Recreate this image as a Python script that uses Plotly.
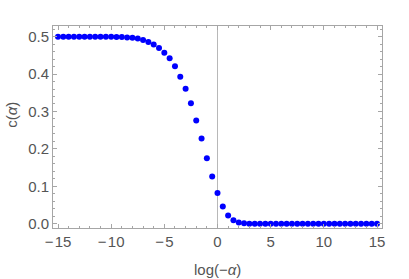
import plotly.graph_objects as go

x_vals = [-15, -14.5, -14, -13.5, -13, -12.5, -12, -11.5, -11, -10.5, -10,
          -9.5, -9, -8.5, -8, -7.5, -7, -6.5, -6, -5.5, -5, -4.5, -4, -3.5, -3,
          -2.5, -2, -1.5, -1, -0.5, 0, 0.5, 1, 1.5, 2, 2.5,
          3, 3.5, 4, 4.5, 5, 5.5, 6, 6.5, 7, 7.5, 8, 8.5, 9, 9.5, 10,
          10.5, 11, 11.5, 12, 12.5, 13, 13.5, 14, 14.5, 15]
c_vals = [0.5, 0.5, 0.5, 0.5, 0.5, 0.5, 0.5, 0.5, 0.5, 0.5, 0.5,
          0.499, 0.499, 0.498, 0.497, 0.495, 0.491, 0.486, 0.479, 0.470, 0.457,
          0.442, 0.421, 0.393, 0.361, 0.322, 0.276, 0.228, 0.175, 0.126, 0.082,
          0.046, 0.022, 0.009, 0.003, 0.001,
          0.0, 0.0, 0.0, 0.0, 0.0, 0.0, 0.0, 0.0, 0.0, 0.0, 0.0, 0.0, 0.0, 0.0, 0.0,
          0.0, 0.0, 0.0, 0.0, 0.0, 0.0, 0.0, 0.0, 0.0, 0.0]
x_ticks = [-15, -10, -5, 0, 5, 10, 15]
x_ticktext = ["\u2212\u200a15", "\u2212\u200a10", "\u2212\u200a5", "0", "5", "10", "15"]
y_ticks = [0.0, 0.1, 0.2, 0.3, 0.4, 0.5]
y_ticktext = ["0.0", "0.1", "0.2", "0.3", "0.4", "0.5"]

FONT = "Liberation Sans, Arial, sans-serif"
FRAME = "#a6a6a6"
TXT = "#555555"

fig = go.Figure()
fig.add_trace(go.Scatter(
    x=x_vals, y=c_vals, mode="markers",
    marker=dict(color="#0000ff", size=6, symbol="circle", line=dict(width=0)),
    showlegend=False, cliponaxis=False,
))

common = dict(
    showline=True, linecolor=FRAME, linewidth=1, mirror="allticks",
    ticks="inside", ticklen=4, tickwidth=1, tickcolor=FRAME,
    showgrid=False,
    tickfont=dict(family=FONT, size=15, color=TXT),
)

fig.update_layout(
    width=409, height=279,
    margin=dict(l=53, r=27, t=26, b=51),
    paper_bgcolor="white", plot_bgcolor="white",
    xaxis=dict(range=[-15.47, 15.47], tickvals=x_ticks, ticktext=x_ticktext,
               zeroline=True, zerolinecolor="#b8b8b8", zerolinewidth=1,
               minor=dict(dtick=1, tick0=0, ticklen=2, ticks="inside", tickcolor=FRAME),
               **common),
    yaxis=dict(range=[-0.0115, 0.5285], tickvals=y_ticks, ticktext=y_ticktext,
               zeroline=False,
               minor=dict(dtick=0.02, tick0=0, ticklen=2, ticks="inside", tickcolor=FRAME),
               **common),
    annotations=[
        dict(text="log(\u2212<i>\u03b1</i>)", xref="paper", yref="paper",
             x=0.499, y=-0.206, xanchor="center", yanchor="middle", showarrow=False,
             font=dict(family=FONT, size=15, color=TXT)),
        dict(text="c(<i>\u03b1</i>)", xref="paper", yref="paper",
             x=-0.125, y=0.56, xanchor="center", yanchor="middle", showarrow=False,
             textangle=-90, font=dict(family=FONT, size=15, color=TXT)),
    ],
)

fig.write_html("out.html", config={"displayModeBar": False},
               post_script="document.body.style.margin='0px';")
